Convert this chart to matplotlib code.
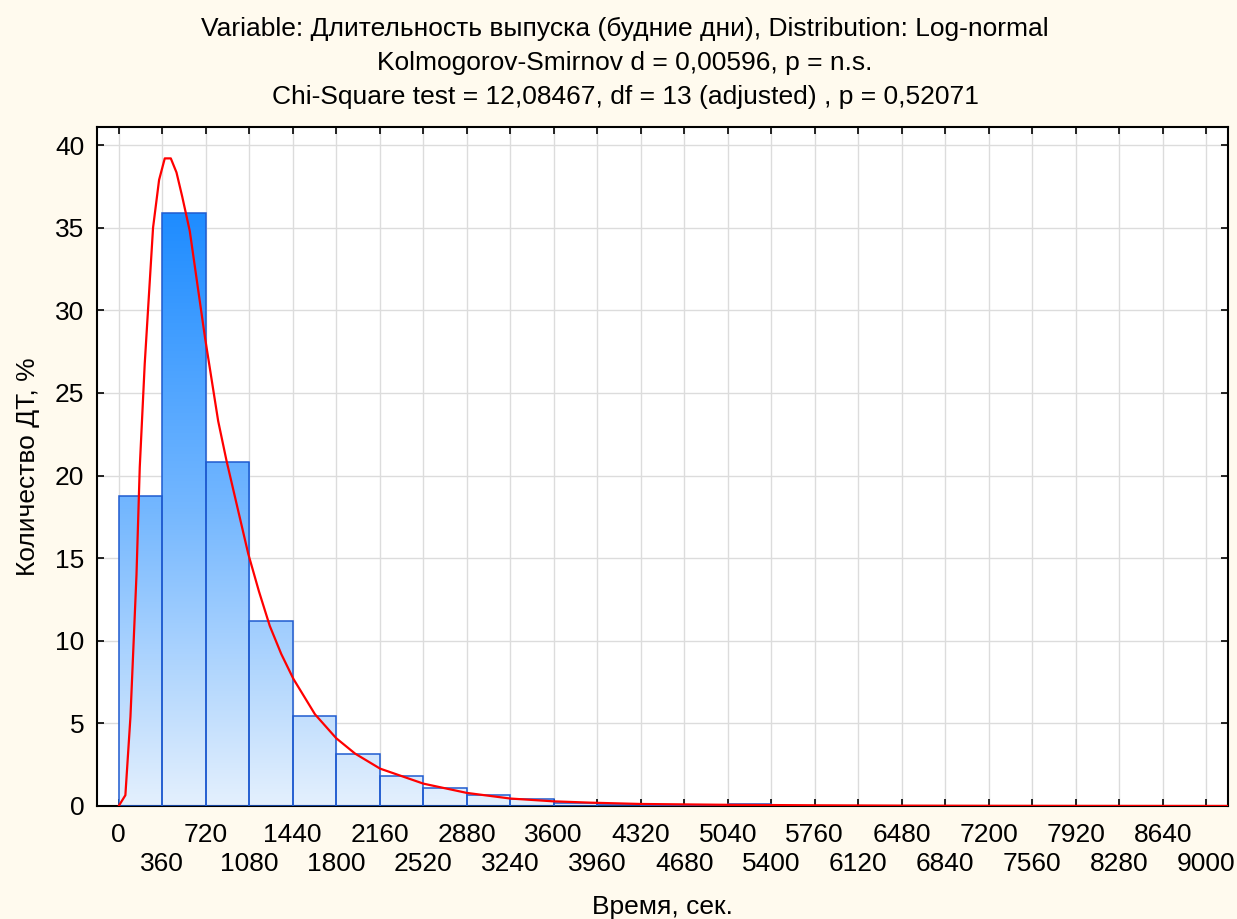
import matplotlib
matplotlib.use("Agg")
import matplotlib.pyplot as plt
import numpy as np
from matplotlib.colors import LinearSegmentedColormap
from matplotlib.patches import Rectangle

plt.rcParams["font.family"] = ["Liberation Sans", "DejaVu Sans"]

bin_width = 360
bin_left = [0, 360, 720, 1080, 1440, 1800, 2160, 2520, 2880, 3240,
            3600, 3960, 4320, 4680, 5040]
percent = [18.74, 35.9, 20.83, 11.17, 5.44, 3.13, 1.81, 1.09, 0.65, 0.41,
           0.18, 0.12, 0.07, 0.06, 0.1]

# fitted log-normal curve
curve_x = [0, 55, 97, 147, 174, 215, 284, 334, 381, 431, 478, 525, 588, 713,
           823, 892, 1072, 1160, 1250, 1345, 1445, 1624, 1800, 1956, 2163,
           2522, 2881, 3240, 3599, 3903, 4320, 5040, 5760, 6480, 7200, 8000,
           9180]
curve_y = [0, 0.65, 5.4, 14.0, 20.5, 26.75, 35.0, 37.9, 39.2, 39.2, 38.35,
           36.9, 34.8, 28.4, 23.3, 20.9, 15.26, 13.0, 10.9, 9.2, 7.7, 5.55,
           4.1, 3.17, 2.26, 1.35, 0.79, 0.45, 0.28, 0.2, 0.12, 0.07, 0.04,
           0.02, 0.01, 0.005, 0.0]

x_ticks_upper = list(range(0, 9001, 720))
x_ticks_lower = list(range(360, 9001, 720))
y_ticks = [0, 5, 10, 15, 20, 25, 30, 35, 40]

title = ("Variable: Длительность выпуска (будние дни), Distribution: Log-normal\n"
         "Kolmogorov-Smirnov d = 0,00596, p = n.s.\n"
         "Chi-Square test = 12,08467, df = 13 (adjusted) , p = 0,52071")

bg = "#FFFAEE"
fig = plt.figure(figsize=(12.37, 9.19), dpi=100, facecolor=bg)
ax = fig.add_axes([0.0784, 0.123, 0.9143, 0.7388])
ax.set_facecolor("white")

ax.set_xlim(-180, 9180)
ax.set_ylim(0, 41.1)

cmap = LinearSegmentedColormap.from_list(
    "bars", [(0.0, "#E4F0FD"), (0.5, "#74B7FF"), (1.0, "#1E8CFF")])
grad = np.linspace(0, 1, 256).reshape(-1, 1)
top = max(percent)
for left, h in zip(bin_left, percent):
    rect = Rectangle((left, 0), bin_width, h, facecolor="none",
                     edgecolor="#1F5BD0", linewidth=1.1, zorder=3)
    ax.add_patch(rect)
    im = ax.imshow(grad, cmap=cmap, origin="lower", aspect="auto",
                   extent=(-180, 9180, 0, top), zorder=2, interpolation="bilinear")
    im.set_clip_path(rect)

ax.plot(curve_x, curve_y, color="#FF0000", linewidth=1.6, zorder=4)

ax.set_xticks(x_ticks_upper)
ax.set_xticks(x_ticks_lower, minor=True)
ax.set_xticklabels([str(v) for v in x_ticks_upper])
ax.set_xticklabels([str(v) for v in x_ticks_lower], minor=True)
ax.set_yticks(y_ticks)
ax.tick_params(which="both", direction="in", length=5, width=1.2, top=True,
               right=True, labelsize=19, colors="black")
ax.tick_params(axis="x", which="major", pad=12)
ax.tick_params(axis="x", which="minor", pad=33)
ax.tick_params(axis="y", pad=9)
ax.grid(True, which="both", axis="x", color="#DCDCDC", linewidth=1.0, zorder=0)
ax.grid(True, axis="y", color="#DCDCDC", linewidth=1.0, zorder=0)
ax.set_axisbelow(True)
for s in ax.spines.values():
    s.set_linewidth(1.5)
    s.set_color("black")

ax.set_xlabel("Время, сек.", fontsize=19, labelpad=14)
ax.set_ylabel("Количество ДТ, %", fontsize=19, labelpad=11)
fig.text(625 / 1237, 1 - 63 / 919, title, fontsize=19, linespacing=1.52,
         ha="center", va="center", multialignment="center")

fig.savefig("out.png", dpi=100, facecolor=bg)
